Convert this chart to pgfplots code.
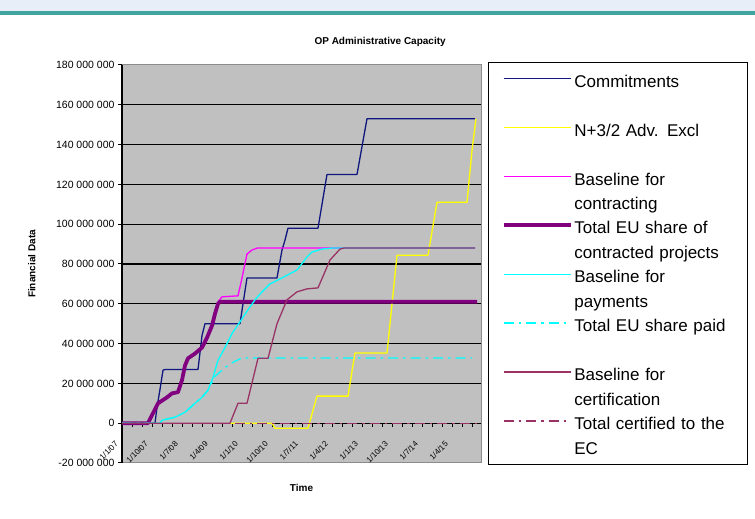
\documentclass[border=0pt]{standalone}
\usepackage{pgfplots}
\pgfplotsset{compat=1.18}
\usepackage{fontspec}
\setmainfont{Liberation Sans}
\definecolor{commit}{RGB}{16,24,128}
\definecolor{nyel}{RGB}{255,255,0}
\definecolor{basecon}{RGB}{255,0,255}
\definecolor{totcon}{RGB}{128,0,128}
\definecolor{basepay}{RGB}{0,255,255}
\definecolor{basecert}{RGB}{153,51,102}
\definecolor{plotbg}{RGB}{192,192,192}
\definecolor{framec}{RGB}{140,140,140}
\definecolor{hdr}{RGB}{232,238,248}
\definecolor{teal1}{RGB}{64,164,160}
\newcommand{\blankrow}[1]{\addlegendimage{empty legend}\addlegendentry{#1}}
\begin{document}
\begin{tikzpicture}
\path[use as bounding box] (0,0) rectangle (755pt,519pt);
\fill[hdr] (0,507pt) rectangle (755pt,519pt);
\fill[teal1] (0,504pt) rectangle (755pt,507.5pt);
\begin{axis}[
  at={(122pt,56pt)}, anchor=south west,
  scale only axis, width=359pt, height=398pt,
  xmin=0, xmax=35.9, ymin=-20, ymax=180,
  axis x line*=middle, axis y line*=left,
  axis line style={-, black, line width=1.2pt},
  axis background/.style={fill=plotbg, draw=framec, line width=1pt},
  hide obscured x ticks=false, hide obscured y ticks=false,
  xtick={0,3,...,33},
  xticklabels={1/1/07,1/10/07,1/7/08,1/4/09,1/1/10,1/10/10,1/7/11,1/4/12,1/1/13,1/10/13,1/7/14,1/4/15},
  minor xtick={0,1,...,35},
  tick align=outside,
  major tick length=4pt, minor tick length=4pt,
  tick style={black, line width=1pt},
  xticklabel style={font=\fontsize{8}{9}\selectfont, xshift=-3pt, yshift=-13pt, rotate=45, anchor=east},
  ytick={20,40,...,160},
  yticklabels={20 000 000,40 000 000,60 000 000,80 000 000,100 000 000,120 000 000,140 000 000,160 000 000},
  extra y ticks={-20,0,180},
  extra y tick labels={-20 000 000,0,180 000 000},
  extra y tick style={grid=none},
  yticklabel style={font=\fontsize{10.5}{12}\selectfont},
  ymajorgrids,
  grid style={black, line width=1.2pt},
  title={OP Administrative Capacity},
  title style={at={(axis description cs:0.719,1.042)}, anchor=center, font=\bfseries\fontsize{10}{12}\selectfont},
  xlabel={Time},
  x label style={at={(axis description cs:0.5,-0.045)}, anchor=north, font=\bfseries\fontsize{10}{12}\selectfont},
  ylabel={Financial Data},
  y label style={at={(axis description cs:-0.251,0.5)}, anchor=center, font=\bfseries\fontsize{10}{12}\selectfont},
  no markers,
  every axis plot/.append style={line join=round},
  legend image code/.code={\path[draw=none] (0pt,1.5pt) -- (82pt,1.5pt); \draw[#1] (15pt,1.5pt) -- (82pt,1.5pt);},
  legend style={
    at={(axis description cs:1.0195,1.0075)}, anchor=north west,
    draw=black, line width=1pt, fill=white,
    inner xsep=0pt, inner ysep=7pt,
    font=\fontsize{17}{22.5}\selectfont,
    row sep=3.2pt, column sep=0pt,
    cells={anchor=west, text width=171pt, inner xsep=6pt, inner ysep=0pt, text height=15.75pt, text depth=6.75pt},
  },
]
% Commitments
\addplot[commit, line width=1.3pt] coordinates {
(0,0) (3.3,0) (3.5,8) (3.8,17) (4.1,26.6) (4.3,27) (7.6,27) (8.0,44) (8.3,50) (11.8,50)
(12.1,60) (12.5,73) (15.5,73) (16.0,87) (16.3,92) (16.6,98) (19.6,98) (20.5,125)
(23.5,125) (24.5,153) (35.3,153)};
\addlegendentry{Commitments}
\blankrow{}
% N+3/2
\addplot[nyel, line width=1.3pt] coordinates {
(10.8,0) (15.0,0) (15.3,-2.5) (18.6,-2.5) (19.5,13.6) (22.6,13.6) (23.3,35.3) (26.5,35.3)
(27.5,84.4) (30.6,84.4) (31.5,111) (34.5,111) (35.0,137) (35.4,153)};
\addlegendentry{N+3/2 Adv. Excl}
\blankrow{}
% Baseline for contracting
\addplot[basecon, line width=1.3pt] coordinates {
(0,0) (2.6,0) (3.6,10) (4.5,13) (5.0,15) (5.6,15.6) (6.0,21.6) (6.3,29) (6.6,32.6) (7.3,35)
(8.0,38) (8.5,43) (9.0,49) (9.3,55) (9.6,61) (10.0,63.5) (11.6,64) (12.0,73) (12.5,85)
(13.0,87) (13.5,88) (35.3,88)};
\addlegendentry{Baseline for}
\blankrow{contracting}
% Total EU share of contracted projects
\addplot[totcon, line width=3.8pt] coordinates {
(0,0) (2.6,0) (3.6,10) (4.5,13) (5.0,15) (5.6,15.6) (6.0,21.6) (6.3,29) (6.6,32.6) (7.3,35)
(8.0,38) (8.5,43) (9.0,49) (9.3,55) (9.6,60) (9.8,61) (35.5,61)};
\addlegendentry{Total EU share of}
\blankrow{contracted projects}
% Baseline for payments
\addplot[basepay, line width=1.3pt] coordinates {
(0,0) (3.8,0) (4.0,1.5) (5.3,3) (6.3,5.5) (7.3,10) (8.0,13) (8.6,16.6) (9.1,23) (9.6,31.6)
(10.3,38) (11.0,45) (11.8,51) (12.6,57) (13.3,62) (14.0,66) (14.8,70) (16.0,73) (17.5,77)
(18.5,83.5) (19.0,86) (20.0,87.5) (21.0,88) (35.3,88)};
\addlegendentry{Baseline for}
\blankrow{payments}
% Total EU share paid
\addplot[basepay, line width=1.3pt, dash pattern=on 10pt off 5pt on 2.5pt off 5pt] coordinates {
(0,0) (3.8,0) (4.0,1.5) (5.3,3) (6.3,5.5) (7.3,10) (8.0,13) (8.6,16.6) (9.3,23.5)
(10.3,28) (11.1,30.6) (12.0,32.8) (35.0,32.8)};
\addlegendentry{Total EU share paid}
\blankrow{}
% Baseline for certification
\addplot[basecert, line width=1.3pt] coordinates {
(0,0) (10.8,0) (11.6,10) (12.5,10) (13.6,32.6) (14.6,32.6) (15.5,50) (16.5,62) (17.5,66)
(18.5,67.5) (19.6,68) (20.8,82) (21.8,87.5) (22.2,88) (35.3,88)};
\addlegendentry{Baseline for}
\blankrow{certification}
% Total certified to the EC
\addplot[basecert, line width=1.3pt, dash pattern=on 10pt off 5pt on 2.5pt off 5pt] coordinates {
(0,0) (35.6,0)};
\addlegendentry{Total certified to the}
\blankrow{EC}
\end{axis}
\end{tikzpicture}
\end{document}
